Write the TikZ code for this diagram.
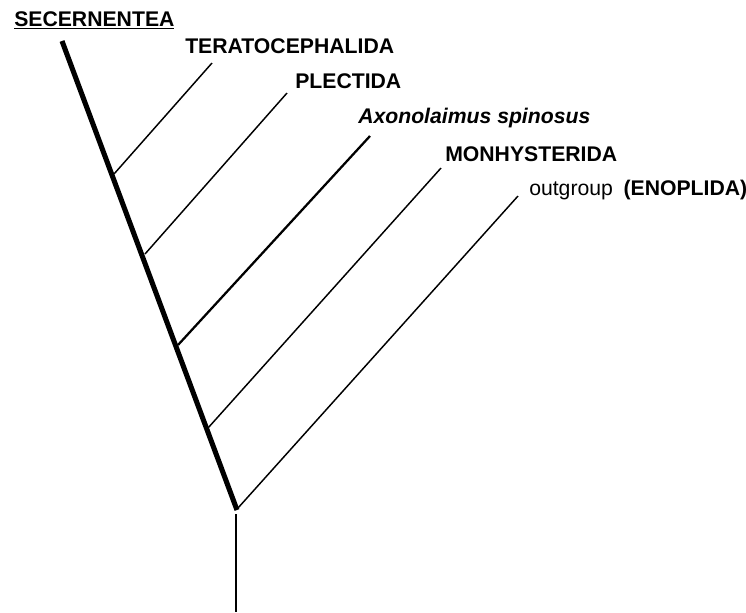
\documentclass[tikz,border=0pt]{standalone}
\usepackage{fontspec}
\setmainfont{Liberation Sans}
\begin{document}
\begin{tikzpicture}[x=0.75pt,y=-0.75pt,
  lbl/.style={anchor=base west,inner sep=0pt,font=\fontsize{15.9}{18}\selectfont},
  trunk/.style={line width=3.8pt},
  twig/.style={line width=1.1pt},
  twigthick/.style={line width=1.7pt}]
\useasboundingbox (0,0) rectangle (746,612);
% trunk
\coordinate (top) at (62,41);
\coordinate (base) at (237,510);
\draw[trunk] (top) -- (base);
% joints on trunk
\coordinate (j1) at (114,174);
\coordinate (j2) at (145,254);
\coordinate (j3) at (178,345);
\coordinate (j4) at (208,428);
\coordinate (j5) at (238,508);
% tips
\coordinate (t1) at (212,63);
\coordinate (t2) at (287,93);
\coordinate (t3) at (370,136);
\coordinate (t4) at (441,168);
\coordinate (t5) at (518,196);
\draw[twig] (j1) -- (t1);
\draw[twig] (j2) -- (t2);
\draw[twigthick] (j3) -- (t3);
\draw[twig] (j4) -- (t4);
\draw[twig] (j5) -- (t5);
% root
\coordinate (r0) at (236,514);
\coordinate (r1) at (236,612);
\draw[twig] (r0) -- (r1);
% labels
\node[lbl] (sec) at (14,26) {\textbf{\underline{SECERNENTEA}}};
\node[lbl] (ter) at (185,53) {\textbf{TERATOCEPHALIDA}};
\node[lbl] (ple) at (295,88) {\textbf{PLECTIDA}};
\node[lbl] (axo) at (358,123) {\textbf{\textit{Axonolaimus spinosus}}};
\node[lbl] (mon) at (445,161) {\textbf{MONHYSTERIDA}};
\node[lbl] (out) at (529,195) {outgroup\hspace{0.5em}\textbf{(ENOPLIDA)}};
\end{tikzpicture}
\end{document}
